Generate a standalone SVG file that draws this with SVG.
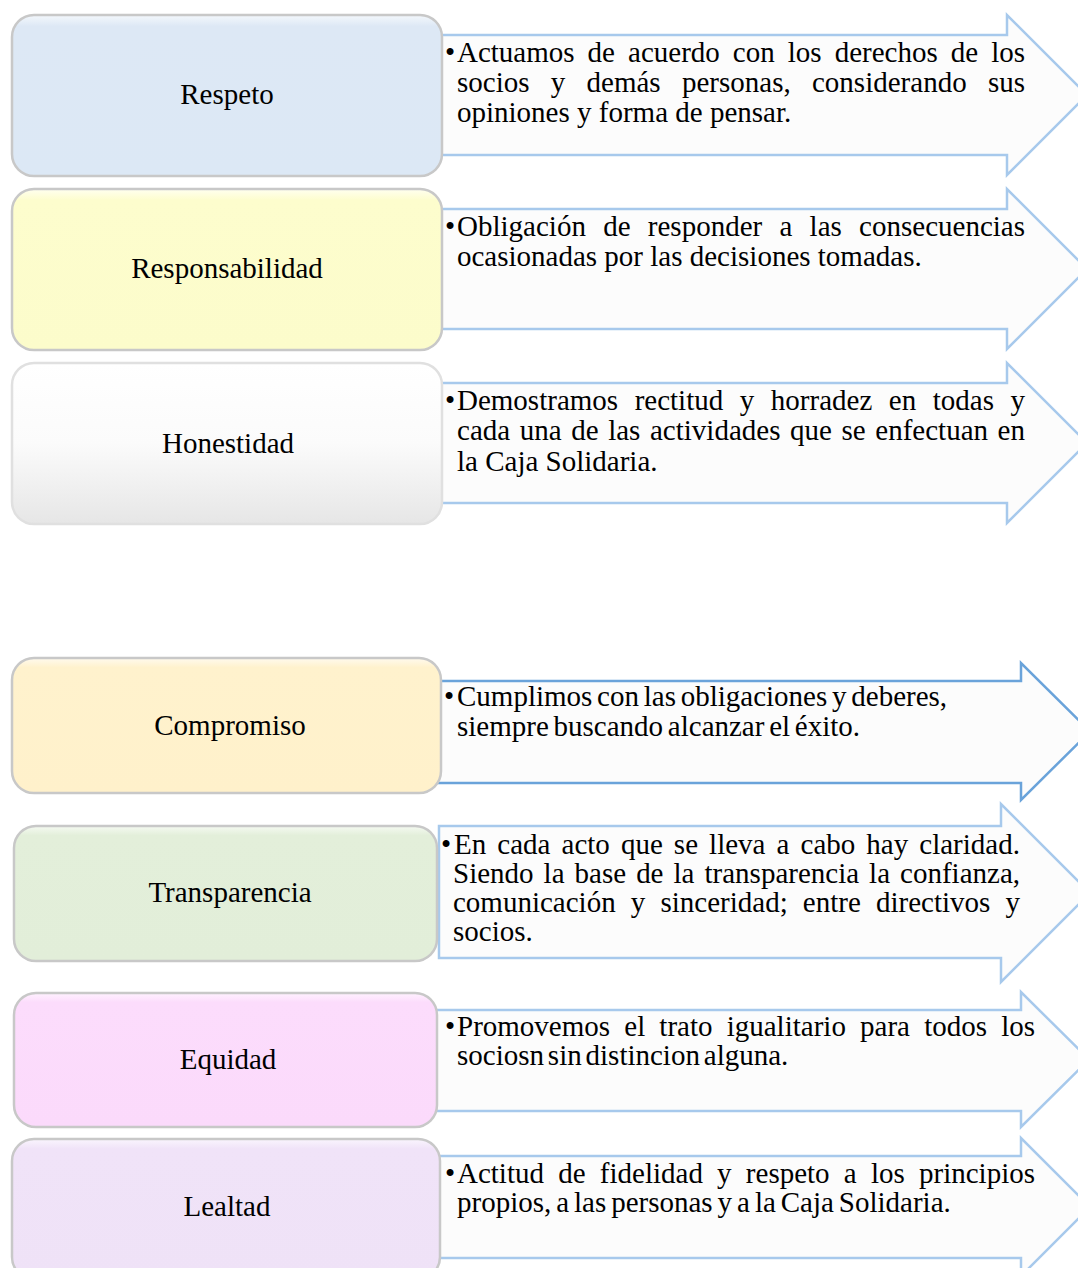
<svg xmlns="http://www.w3.org/2000/svg" width="1078" height="1268" viewBox="0 0 1078 1268">
<defs>
<linearGradient id="gBlue" x1="0" y1="0" x2="0" y2="1"><stop offset="0" stop-color="#f4f8fc"/><stop offset="0.07" stop-color="#dde8f5"/><stop offset="1" stop-color="#dce8f5"/></linearGradient>
<linearGradient id="gYellow" x1="0" y1="0" x2="0" y2="1"><stop offset="0" stop-color="#fffff0"/><stop offset="0.07" stop-color="#fdfdcd"/><stop offset="1" stop-color="#fcfccb"/></linearGradient>
<linearGradient id="gGray" x1="0" y1="0" x2="0" y2="1"><stop offset="0" stop-color="#ffffff"/><stop offset="0.5" stop-color="#fbfbfb"/><stop offset="1" stop-color="#e6e6e6"/></linearGradient>
<linearGradient id="gOrange" x1="0" y1="0" x2="0" y2="1"><stop offset="0" stop-color="#fffaee"/><stop offset="0.07" stop-color="#fff2cd"/><stop offset="1" stop-color="#fff1cb"/></linearGradient>
<linearGradient id="gGreen" x1="0" y1="0" x2="0" y2="1"><stop offset="0" stop-color="#f5faf2"/><stop offset="0.07" stop-color="#e3efda"/><stop offset="1" stop-color="#e2eed9"/></linearGradient>
<linearGradient id="gPink" x1="0" y1="0" x2="0" y2="1"><stop offset="0" stop-color="#fff2ff"/><stop offset="0.07" stop-color="#fcdcfc"/><stop offset="1" stop-color="#fbdafb"/></linearGradient>
<linearGradient id="gLav" x1="0" y1="0" x2="0" y2="1"><stop offset="0" stop-color="#faf5fd"/><stop offset="0.07" stop-color="#f0e3f8"/><stop offset="1" stop-color="#efe2f7"/></linearGradient>
</defs>
<style>
.box{stroke:#c8c8c8;stroke-width:2.5}
.box.light{stroke:#e0e0e0}
.arrow{fill:#fcfcfc;stroke:#a7c9ec;stroke-width:2.5;stroke-linejoin:miter}
.arrow.dark{stroke:#6aa3da}
.lbl{font-family:"Liberation Serif","Times New Roman",serif;font-size:29px;fill:#000;text-anchor:middle}
.txt{font-family:"Liberation Serif","Times New Roman",serif;font-size:29px;fill:#000}
</style>

<g id="arrows">
<path class="arrow" d="M436,35 H1007 V15 L1087,95 L1007,175 V155 H436 Z"/>
<path class="arrow" d="M436,209 H1007 V189 L1087,269 L1007,349 V329 H436 Z"/>
<path class="arrow" d="M436,383 H1007 V363 L1087,443 L1007,523 V503 H436 Z"/>
<path class="arrow dark" d="M436,681 H1021 V663 L1090,731.5 L1021,800 V783 H436 Z"/>
<path class="arrow" d="M439,826 H1001 V804 L1090,893 L1001,982 V958 H439 Z"/>
<path class="arrow" d="M430,1010 H1021 V992 L1089,1059.5 L1021,1127 V1111 H430 Z"/>
<path class="arrow" d="M434,1156 H1021 V1138 L1090,1207 L1021,1276 V1258 H434 Z"/>
</g>

<g id="node-respeto">
<rect class="box" x="12" y="15" width="430" height="161" rx="22" fill="url(#gBlue)"/>
<text class="lbl" x="227" y="104">Respeto</text>
</g>
<g id="detail-respeto">
<text class="txt" x="445" y="62">•</text>
<text class="txt" x="457" y="62" word-spacing="5.8" textLength="568" lengthAdjust="spacing">Actuamos de acuerdo con los derechos de los</text>
<text class="txt" x="457" y="92" word-spacing="14" textLength="568" lengthAdjust="spacing">socios y demás personas, considerando sus</text>
<text class="txt" x="457" y="122">opiniones y forma de pensar.</text>
</g>

<g id="node-responsabilidad">
<rect class="box" x="12" y="189" width="430" height="161" rx="22" fill="url(#gYellow)"/>
<text class="lbl" x="227" y="278">Responsabilidad</text>
</g>
<g id="detail-responsabilidad">
<text class="txt" x="445" y="236">•</text>
<text class="txt" x="457" y="236" word-spacing="10" textLength="568" lengthAdjust="spacing">Obligación de responder a las consecuencias</text>
<text class="txt" x="457" y="266">ocasionadas por las decisiones tomadas.</text>
</g>

<g id="node-honestidad">
<rect class="box light" x="12" y="363" width="430" height="161" rx="22" fill="url(#gGray)"/>
<text class="lbl" x="228" y="453">Honestidad</text>
</g>
<g id="detail-honestidad">
<text class="txt" x="445" y="410">•</text>
<text class="txt" x="457" y="410" word-spacing="9.3" textLength="568" lengthAdjust="spacing">Demostramos rectitud y horradez en todas y</text>
<text class="txt" x="457" y="440" word-spacing="2.3" textLength="568" lengthAdjust="spacing">cada una de las actividades que se enfectuan en</text>
<text class="txt" x="457" y="471">la Caja Solidaria.</text>
</g>

<g id="node-compromiso">
<rect class="box" x="12" y="658" width="429" height="135" rx="22" fill="url(#gOrange)"/>
<text class="lbl" x="230" y="735">Compromiso</text>
</g>
<g id="detail-compromiso">
<text class="txt" x="444" y="706">•</text>
<text class="txt" x="457" y="706" word-spacing="-2.5">Cumplimos con las obligaciones y deberes,</text>
<text class="txt" x="457" y="736" word-spacing="-2.5">siempre buscando alcanzar el éxito.</text>
</g>

<g id="node-transparencia">
<rect class="box" x="14" y="826" width="423" height="135" rx="22" fill="url(#gGreen)"/>
<text class="lbl" x="230" y="902">Transparencia</text>
</g>
<g id="detail-transparencia">
<text class="txt" x="441" y="854">•</text>
<text class="txt" x="454" y="854" word-spacing="3.8" textLength="566" lengthAdjust="spacing">En cada acto que se lleva a cabo hay claridad.</text>
<text class="txt" x="453" y="883" word-spacing="2.8" textLength="567" lengthAdjust="spacing">Siendo la base de la transparencia la confianza,</text>
<text class="txt" x="453" y="912" word-spacing="7.9" textLength="567" lengthAdjust="spacing">comunicación y sinceridad; entre directivos y</text>
<text class="txt" x="453" y="941">socios.</text>
</g>

<g id="node-equidad">
<rect class="box" x="14" y="993" width="423" height="134" rx="22" fill="url(#gPink)"/>
<text class="lbl" x="228" y="1069">Equidad</text>
</g>
<g id="detail-equidad">
<text class="txt" x="445" y="1036">•</text>
<text class="txt" x="457" y="1036" word-spacing="6.9" textLength="578" lengthAdjust="spacing">Promovemos el trato igualitario para todos los</text>
<text class="txt" x="457" y="1065" word-spacing="-3.4">sociosn sin distincion alguna.</text>
</g>

<g id="node-lealtad">
<rect class="box" x="12" y="1139" width="428" height="140" rx="22" fill="url(#gLav)"/>
<text class="lbl" x="227" y="1216">Lealtad</text>
</g>
<g id="detail-lealtad">
<text class="txt" x="445" y="1183">•</text>
<text class="txt" x="457" y="1183" word-spacing="7" textLength="578" lengthAdjust="spacing">Actitud de fidelidad y respeto a los principios</text>
<text class="txt" x="457" y="1212" word-spacing="-2.3">propios, a las personas y a la Caja Solidaria.</text>
</g>
</svg>
